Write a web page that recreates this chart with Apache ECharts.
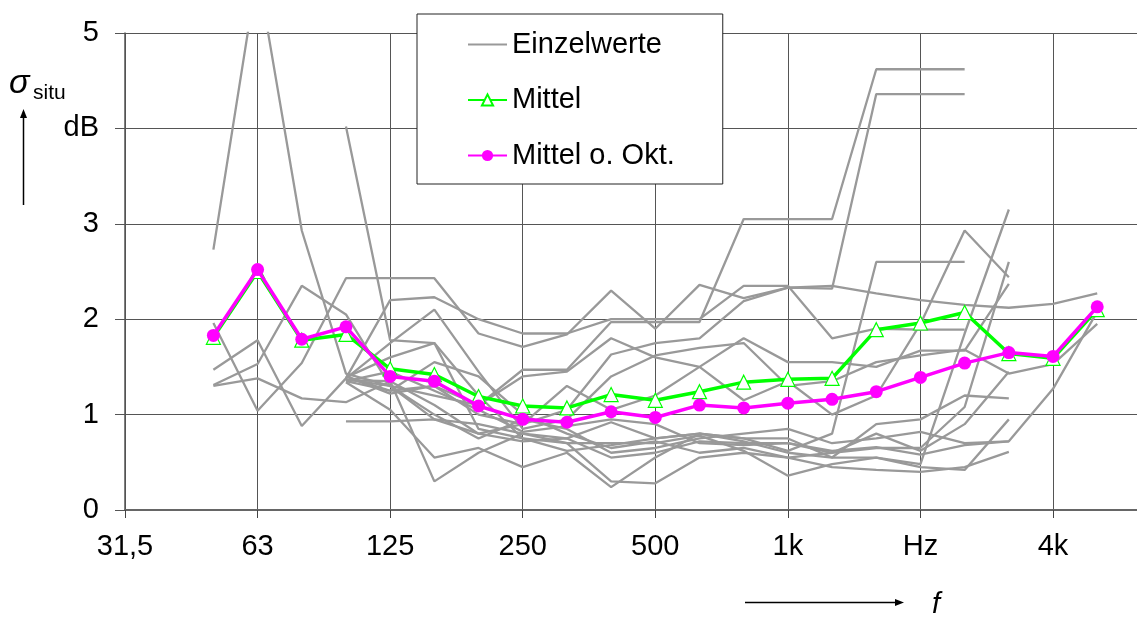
<!DOCTYPE html>
<html>
<head>
<meta charset="utf-8">
<script src="https://cdn.jsdelivr.net/npm/echarts@6/dist/echarts.min.js"></script>
<style>
html,body{margin:0;padding:0;background:#fff;overflow:hidden;}
#chart{width:1137px;height:619px;}
</style>
</head>
<body>
<div id="chart"></div>
<script>
// Third-octave band centre frequencies (position index on a log2 axis, 31,5 Hz = 0)
const bands = ['50','63','80','100','125','160','200','250','315','400','500','630','800','1k','1.25k','1.6k','2k','2.5k','3.15k','4k','5k'];
const bandIndex = [2,3,4,5,6,7,8,9,10,11,12,13,14,15,16,17,18,19,20,21,22];
const xTickValues = [0,3,6,9,12,15,18,21];
const xTickLabels = {0:'31,5',3:'63',6:'125',9:'250',12:'500',15:'1k',18:'Hz',21:'4k'};
const yTickLabels = {0:'0',1:'1',2:'2',3:'3',4:'dB',5:'5'};

const mittel =      [1.81,2.50,1.78,1.84,1.48,1.42,1.19,1.09,1.07,1.21,1.15,1.24,1.34,1.37,1.38,1.89,1.96,2.07,1.64,1.59,2.10];
const mittelOhneOkt=[1.83,2.52,1.79,1.92,1.40,1.35,1.09,0.95,0.92,1.03,0.97,1.10,1.07,1.12,1.16,1.24,1.39,1.54,1.65,1.61,2.13];

const g1  = [2.73,5.65,2.93,1.43,1.30,0.95,0.80,0.72,0.75,0.55,0.60,0.72,0.70,0.70,0.62,0.66,0.58,0.68,0.72,1.27,2.08];
const g2  = [1.96,1.04,1.54,2.43,2.43,2.43,1.85,1.71,1.84,2.30,1.90,2.36,2.22,2.33,2.35,2.27,2.20,2.15,2.12,2.16,2.27];
const g3  = [1.47,1.78,0.88,1.38,1.75,2.10,1.45,0.85,0.95,1.40,1.62,1.70,1.75,1.30,1.35,1.55,1.62,1.68,1.43,1.53,1.95];
const g4  = [1.31,1.53,2.35,2.05,1.30,1.20,1.10,1.47,1.47,1.97,1.97,1.97,3.05,3.05,3.05,4.62,4.62,4.62,null,null,null];
const g5  = [null,null,null,1.40,1.25,1.30,1.00,0.90,1.05,1.63,1.75,1.80,2.19,2.33,2.32,4.36,4.36,4.36,null,null,null];
const g6  = [null,null,null,0.93,0.93,0.95,0.90,0.80,0.75,0.92,0.75,0.80,0.75,0.62,0.80,2.60,2.60,2.60,null,null,null];
const g7  = [null,null,null,4.02,1.78,1.75,1.20,0.75,0.62,0.68,0.75,0.80,0.72,0.60,0.55,0.55,0.48,1.85,3.15,null,null];
const g8  = [1.30,1.38,1.17,1.13,1.35,1.10,0.80,0.90,1.30,1.05,1.20,1.50,1.15,1.35,1.00,1.20,1.95,2.93,2.44,null,null];
const g9  = [null,null,null,1.35,1.25,1.55,1.40,1.00,0.80,0.65,0.72,0.60,0.65,0.55,0.60,0.65,0.65,1.08,2.60,null,null];
const g10 = [null,null,null,1.38,2.20,2.23,2.00,1.85,1.85,2.00,2.00,2.00,2.35,2.35,1.80,1.90,1.89,1.89,null,null,null];
const g11 = [null,null,null,1.36,1.35,0.30,0.60,0.80,0.70,0.30,0.28,0.55,0.60,0.55,0.45,0.42,0.40,0.45,0.61,null,null];
const g12 = [null,null,null,1.34,1.05,0.55,0.65,0.45,0.60,0.24,0.55,0.80,0.75,0.75,0.55,0.90,0.95,1.20,1.17,null,null];
const g13 = [null,null,null,1.39,1.60,1.75,0.85,0.75,0.70,0.70,0.70,0.78,0.62,0.36,0.48,0.55,0.45,0.42,0.95,null,null];
const g14 = [null,null,null,1.40,1.22,1.30,1.10,1.40,1.45,1.80,1.60,1.50,1.80,1.55,1.55,1.50,1.67,1.67,2.37,null,null];
const g15 = [null,null,null,1.37,1.30,1.00,0.75,0.95,0.85,0.60,0.65,0.75,0.80,0.85,0.70,0.75,0.82,0.70,0.72,null,null];
const g16 = [null,null,null,1.35,1.45,1.25,1.05,0.82,0.88,0.95,0.90,0.70,0.68,0.70,0.60,0.80,0.62,0.90,1.45,null,null];
const grayLines = [g1,g2,g3,g4,g5,g6,g7,g8,g9,g10,g11,g12,g13,g14,g15,g16];

function toPairs(arr){ return arr.map((v,i)=>[bandIndex[i], v]); }

const chart = echarts.init(document.getElementById('chart'), null, {renderer:'canvas'});
const font = '"Liberation Sans", Arial, sans-serif';

const series = [];
grayLines.forEach(arr=>{
  series.push({
    name:'Einzelwerte', type:'line', data:toPairs(arr), symbol:'none',
    lineStyle:{color:'#999999', width:2.3}, itemStyle:{color:'rgba(0,0,0,0)'},
    connectNulls:false, z:2, silent:true, animation:false
  });
});
series.push({
  name:'Mittel', type:'line', data:toPairs(mittel), symbol:'triangle', symbolSize:14,
  lineStyle:{color:'#00ff00', width:3.5},
  itemStyle:{color:'#ffffff', borderColor:'#00ff00', borderWidth:1.2},
  z:3, animation:false
});
series.push({
  name:'Mittel o. Okt.', type:'line', data:toPairs(mittelOhneOkt), symbol:'circle', symbolSize:13,
  lineStyle:{color:'#ff00ff', width:3.5},
  itemStyle:{color:'#ff00ff', borderColor:'#ff00ff', borderWidth:0},
  z:4, animation:false
});

chart.setOption({
  animation:false,
  backgroundColor:'#ffffff',
  grid:{left:125, right:0, top:33, bottom:109, containLabel:false},
  xAxis:{
    type:'value', min:0, max:22.9, interval:3,
    axisLine:{show:true, onZero:false, lineStyle:{color:'#666', width:2}},
    axisTick:{show:true, length:8, customValues:xTickValues, lineStyle:{color:'#444', width:1}},
    axisLabel:{fontFamily:font, fontSize:29, color:'#000', margin:22, customValues:xTickValues,
      formatter:v=> (xTickLabels[v]!==undefined ? xTickLabels[v] : '')},
    splitLine:{show:true, lineStyle:{color:'#555', width:1}}
  },
  yAxis:{
    type:'value', min:0, max:5, interval:1,
    axisLine:{show:true, lineStyle:{color:'#555', width:1.5}},
    axisTick:{show:true, length:10, lineStyle:{color:'#555', width:1}},
    axisLabel:{fontFamily:font, fontSize:29, color:'#000', margin:26,
      formatter:v=> (yTickLabels[v]!==undefined ? yTickLabels[v] : '')},
    splitLine:{show:true, lineStyle:{color:'#555', width:1}}
  },
  legend:{
    data:['Einzelwerte','Mittel','Mittel o. Okt.'],
    orient:'vertical', left:417, top:14,
    backgroundColor:'#ffffff', borderColor:'#222', borderWidth:1,
    padding:[16,48,14,50], itemGap:26.5, itemWidth:39, itemHeight:14,
    textStyle:{fontFamily:font, fontSize:29, color:'#000'},
    selectedMode:false
  },
  graphic:[
    {type:'text', left:9, top:67, z:10, style:{text:'σ', font:'italic 34px "Liberation Sans", Arial, sans-serif', fill:'#000'}},
    {type:'text', left:33, top:83, z:10, style:{text:'situ', font:'21px "Liberation Sans", Arial, sans-serif', fill:'#000'}},
    {type:'line', z:10, shape:{x1:23.5, y1:205, x2:23.5, y2:116}, style:{stroke:'#000', lineWidth:1.5}},
    {type:'polygon', z:10, shape:{points:[[23.5,109],[20,118],[27,118]]}, style:{fill:'#000'}},
    {type:'line', z:10, shape:{x1:745, y1:602.5, x2:896, y2:602.5}, style:{stroke:'#000', lineWidth:1.5}},
    {type:'polygon', z:10, shape:{points:[[904,602.5],[895,599],[895,606]]}, style:{fill:'#000'}},
    {type:'text', left:932, top:590, z:10, style:{text:'f', font:'italic 29px "Liberation Sans", Arial, sans-serif', fill:'#000'}}
  ],
  series:series
});
</script>
</body>
</html>
